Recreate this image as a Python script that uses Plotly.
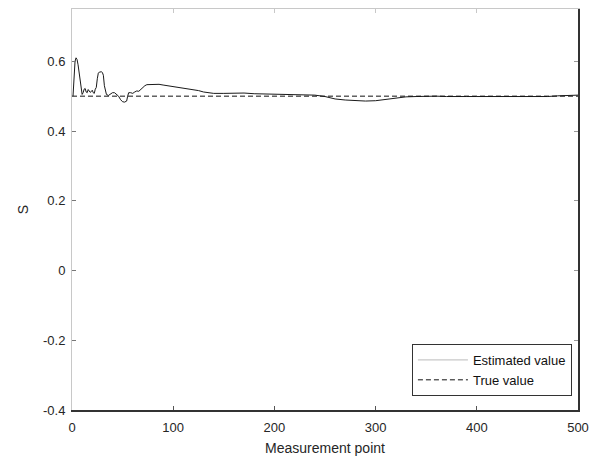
import plotly.graph_objects as go

meas_x = [1, 2, 3, 4, 5, 6, 7, 8, 9, 10, 11, 12, 13, 14, 15, 16, 17, 18, 19, 20,
          21, 22, 23, 24, 25, 26, 27, 28, 29, 30, 31, 32, 33, 34, 36, 38, 40, 42, 44, 46,
          48, 50, 52, 54, 55, 56, 58, 60, 62, 64, 66, 68, 70, 72, 74, 78, 82, 86, 90, 95,
          100, 105, 110, 115, 120, 125, 130, 135, 140, 150, 160, 170, 180, 190, 200, 210,
          220, 230, 240, 250, 255, 260, 270, 280, 290, 300, 310, 320, 330, 340, 350, 360,
          370, 380, 390, 400, 410, 420, 430, 440, 450, 460, 470, 480, 490, 500]
estimated = [0.50, 0.57, 0.60, 0.61, 0.605, 0.59, 0.565, 0.54, 0.515, 0.505, 0.51, 0.52,
             0.522, 0.512, 0.51, 0.519, 0.515, 0.511, 0.513, 0.517, 0.51, 0.508, 0.52, 0.525,
             0.55, 0.566, 0.569, 0.57, 0.57, 0.568, 0.56, 0.53, 0.51, 0.505, 0.502, 0.505,
             0.51, 0.51, 0.505, 0.50, 0.49, 0.484, 0.483, 0.486, 0.50, 0.51, 0.51, 0.508,
             0.512, 0.515, 0.514, 0.52, 0.525, 0.53, 0.533, 0.534, 0.533, 0.534, 0.532, 0.53,
             0.528, 0.525, 0.522, 0.52, 0.518, 0.516, 0.512, 0.509, 0.508, 0.508, 0.509, 0.509,
             0.507, 0.506, 0.505, 0.504, 0.505, 0.504, 0.503, 0.499, 0.495, 0.492, 0.489, 0.487,
             0.486, 0.487, 0.491, 0.496, 0.498, 0.499, 0.50, 0.50, 0.499, 0.498, 0.499, 0.499,
             0.499, 0.50, 0.499, 0.499, 0.499, 0.498, 0.499, 0.501, 0.502, 0.503]
true_x = [0, 500]
true_value = [0.5, 0.5]

x_ticks = [0, 100, 200, 300, 400, 500]
y_ticks = [-0.4, -0.2, 0, 0.2, 0.4, 0.6]
y_tick_text = ["-0.4", "-0.2", "0", "0.2", "0.4", "0.6"]
x_range = [0, 500]
y_range = [-0.4, 0.75]

FONT = "Liberation Sans, Arial, sans-serif"
DARK = "#262626"
LIGHT = "#c8c8c8"

fig = go.Figure()
fig.add_trace(go.Scatter(x=meas_x, y=estimated, mode="lines",
                         line=dict(color="#1a1a1a", width=1), showlegend=False))
# legend entry for the estimated curve (drawn light gray in the reference legend)
fig.add_trace(go.Scatter(x=[None], y=[None], mode="lines", name="Estimated value",
                         line=dict(color=LIGHT, width=1.2)))
fig.add_trace(go.Scatter(x=true_x, y=true_value, mode="lines", name="True value",
                         line=dict(color="#111111", width=1, dash="5px,3px")))

# page body has an 8px margin, so the figure is 8px smaller than the window
fig.update_layout(
    width=598, height=458,
    margin=dict(l=64, r=28, t=1, b=56),
    paper_bgcolor="white", plot_bgcolor="white",
    font=dict(family=FONT, size=13, color=DARK),
    xaxis=dict(range=x_range, tickvals=x_ticks, ticks="inside", ticklen=4,
               tickcolor="#555", showgrid=False, zeroline=False, showline=True,
               linecolor="#333", linewidth=1.5, ticklabelstandoff=5,
               title=dict(text="Measurement point", font=dict(size=14), standoff=9)),
    yaxis=dict(range=y_range, tickvals=y_ticks, ticktext=y_tick_text,
               ticks="inside", ticklen=4, ticklabelstandoff=3,
               tickcolor="#777", showgrid=False, zeroline=False, showline=True,
               linecolor=LIGHT, linewidth=1,
               title=dict(text="S", font=dict(size=14), standoff=11)),
    xaxis2=dict(range=x_range, overlaying="x", side="top", tickvals=x_ticks, ticks="inside",
                ticklen=4, tickcolor=LIGHT, showticklabels=False, showgrid=False,
                zeroline=False, showline=True, linecolor=LIGHT, linewidth=1),
    yaxis2=dict(range=y_range, overlaying="y", side="right", tickvals=y_ticks, ticks="inside",
                ticklen=4, tickcolor="#999", showticklabels=False, showgrid=False,
                zeroline=False, showline=True, linecolor="#333", linewidth=1.5),
    legend=dict(x=0.988, y=0.035, xanchor="right", yanchor="bottom",
                bgcolor="white", bordercolor="#333", borderwidth=1, itemwidth=50,
                font=dict(size=13, color="#111"), tracegroupgap=0),
    showlegend=True,
)
# invisible trace to activate the mirrored axes
fig.add_trace(go.Scatter(x=[None], y=[None], xaxis="x2", yaxis="y2", showlegend=False,
                         hoverinfo="skip"))

fig.write_html("out.html")
